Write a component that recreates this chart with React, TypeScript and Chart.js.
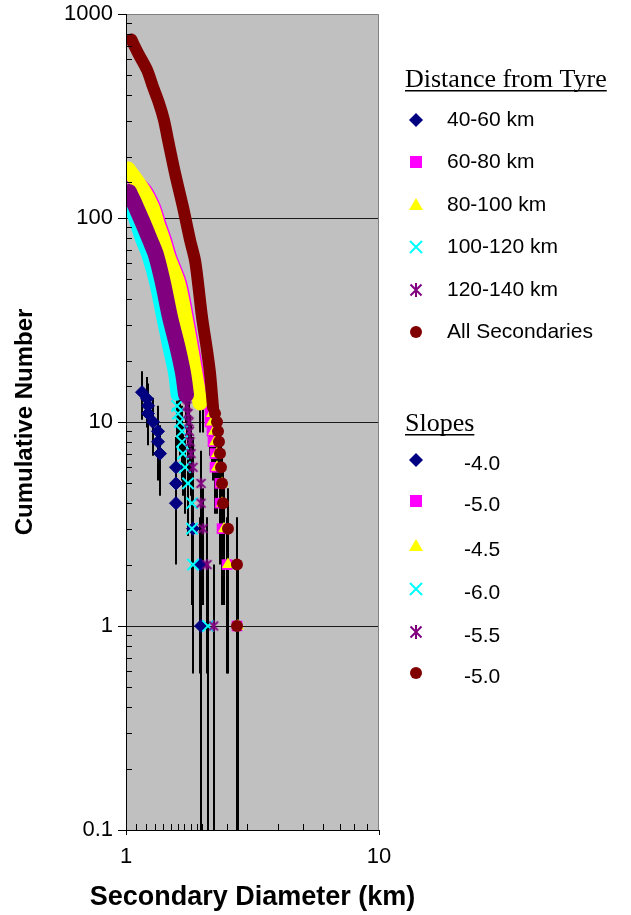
import React, { useEffect, useRef } from 'react';
import { Chart, registerables } from 'chart.js';

Chart.register(...registerables);

const FONT = "'Liberation Sans', Arial, sans-serif";
const SERIF = "'Liberation Serif', 'Times New Roman', serif";

// ---------- text ----------
const xTitle = 'Secondary Diameter (km)';
const yTitle = 'Cumulative Number';
const xTickLabels = ['1', '10'];
const yTickLabels = ['0.1', '1', '10', '100', '1000'];
const legendHeading1 = 'Distance from Tyre';
const legendHeading2 = 'Slopes';
const distanceLabels = ['40-60 km', '60-80 km', '80-100 km', '100-120 km', '120-140 km', 'All Secondaries'];
const slopeLabels = ['-4.0', '-5.0', '-4.5', '-6.0', '-5.5', '-5.0'];

// ---------- data (diameter km, cumulative number) ----------
// 40-60 km
const navyD = [1.157, 1.211, 1.222, 1.222, 1.279, 1.338, 1.338, 1.363, 1.576, 1.576, 1.576, 1.84, 1.96, 1.98];
const navyN = [14, 13, 12, 11, 10, 9, 8, 7, 6, 5, 4, 3, 2, 1];

// 60-80 km
const magentaBandD = [1.04, 1.19, 1.29, 1.351, 1.426, 1.493, 1.635, 1.742, 1.84, 1.908, 2.016];
const magentaBandN = [161, 137, 113, 94.5, 78, 64.4, 48, 32.7, 22.5, 17.4, 12.4];
const magentaPtsD = [2.148, 2.148, 2.187, 2.207, 2.248, 2.248, 2.352, 2.352, 2.396, 2.507, 2.746];
const magentaPtsN = [11, 10, 9, 8, 7, 6, 5, 4, 3, 2, 1];

// 80-100 km
const yellowBandD = [1.018, 1.167, 1.267, 1.326, 1.4, 1.466, 1.605, 1.711, 1.807, 1.874, 1.961];
const yellowBandN = [174, 137, 113, 94.5, 78, 64.4, 48, 32.7, 22.5, 17.4, 12.4];
const yellowPtsD = [2.187, 2.187, 2.227, 2.248, 2.289, 2.289, 2.396, 2.396, 2.44, 2.53, 2.771];
const yellowPtsN = [11, 10, 9, 8, 7, 6, 5, 4, 3, 2, 1];

// 100-120 km
const cyanBandD = [1.0, 1.066, 1.15, 1.215, 1.305, 1.39, 1.466, 1.548, 1.585];
const cyanBandN = [128, 103, 78, 65.8, 48, 32.7, 23.8, 17.4, 13.6];
const cyanPtsD = [1.591, 1.605, 1.635, 1.665, 1.665, 1.68, 1.711, 1.758, 1.823, 1.823, 1.84, 2.109];
const cyanPtsN = [12, 11, 10, 9, 8, 7, 6, 5, 4, 3, 2, 1];

// 120-140 km
const purpleBandD = [1.028, 1.066, 1.167, 1.244, 1.314, 1.4, 1.492, 1.591, 1.68, 1.727];
const purpleBandN = [134, 122, 94.5, 78, 65.8, 48, 32.7, 23.8, 17.4, 13.6];
const purplePtsD = [1.742, 1.758, 1.774, 1.78, 1.791, 1.807, 1.84, 1.979, 1.979, 2.016, 2.09, 2.22];
const purplePtsN = [12, 11, 10, 9, 8, 7, 6, 5, 4, 3, 2, 1];

// All Secondaries
const allBandD = [1.05, 1.115, 1.211, 1.279, 1.35, 1.413, 1.466, 1.562, 1.68, 1.791, 1.874, 1.926, 1.997, 2.09, 2.148, 2.207];
const allBandN = [750, 644, 532, 439, 366, 302, 241, 166, 113, 78, 62, 48, 32.7, 22.5, 17.4, 11.8];
const allPtsD = [2.248, 2.289, 2.31, 2.331, 2.352, 2.374, 2.396, 2.418, 2.53, 2.746, 2.746];
const allPtsN = [11, 10, 9, 8, 7, 6, 5, 4, 3, 2, 1];

const zip = (d: number[], n: number[]) => d.map((x, i) => ({ x, y: n[i] }));

const isPow10 = (v: number) => {
  const l = Math.log10(v);
  return Math.abs(l - Math.round(l)) < 1e-6;
};

function makeAsterisk(color: string, size: number) {
  const c = document.createElement('canvas');
  c.width = size;
  c.height = size;
  const g = c.getContext('2d')!;
  g.strokeStyle = color;
  g.lineWidth = 2;
  const m = size / 2;
  const a = size / 2 - 1;
  const d = a * 0.8;
  g.beginPath();
  g.moveTo(m - d, m - d); g.lineTo(m + d, m + d);
  g.moveTo(m + d, m - d); g.lineTo(m - d, m + d);
  g.moveTo(m, m - a); g.lineTo(m, m + a);
  g.stroke();
  return c;
}

function drawMarker(ctx: CanvasRenderingContext2D, kind: string, x: number, y: number, color: string) {
  ctx.save();
  ctx.fillStyle = color;
  ctx.strokeStyle = color;
  ctx.lineWidth = 2;
  ctx.beginPath();
  if (kind === 'diamond') {
    ctx.moveTo(x, y - 7); ctx.lineTo(x + 7, y); ctx.lineTo(x, y + 7); ctx.lineTo(x - 7, y); ctx.closePath(); ctx.fill();
  } else if (kind === 'square') {
    ctx.fillRect(x - 6, y - 6, 12, 12);
  } else if (kind === 'triangle') {
    ctx.moveTo(x, y - 7); ctx.lineTo(x + 7, y + 5); ctx.lineTo(x - 7, y + 5); ctx.closePath(); ctx.fill();
  } else if (kind === 'x') {
    ctx.moveTo(x - 6, y - 6); ctx.lineTo(x + 6, y + 6); ctx.moveTo(x + 6, y - 6); ctx.lineTo(x - 6, y + 6); ctx.stroke();
  } else if (kind === 'asterisk') {
    ctx.moveTo(x - 5.5, y - 5.5); ctx.lineTo(x + 5.5, y + 5.5); ctx.moveTo(x + 5.5, y - 5.5); ctx.lineTo(x - 5.5, y + 5.5);
    ctx.moveTo(x, y - 7); ctx.lineTo(x, y + 7); ctx.stroke();
  } else {
    ctx.arc(x, y, 6, 0, Math.PI * 2); ctx.fill();
  }
  ctx.restore();
}

const seriesColors = ['#000080', '#FF00FF', '#FFFF00', '#00FFFF', '#800080', '#800000'];
const legendKinds = ['diamond', 'square', 'triangle', 'x', 'asterisk', 'circle'];

const bgPlugin = {
  id: 'plotBg',
  beforeDraw(chart: any) {
    const { ctx, chartArea: a } = chart;
    ctx.save();
    ctx.fillStyle = '#C0C0C0';
    ctx.fillRect(a.left, a.top, a.right - a.left, a.bottom - a.top);
    ctx.restore();
  },
};

const errorBarPlugin = {
  id: 'errBars',
  beforeDatasetsDraw(chart: any) {
    const { ctx, chartArea: a } = chart;
    const xs = chart.scales.x;
    const ys = chart.scales.y;
    ctx.save();
    ctx.beginPath();
    ctx.rect(a.left, a.top, a.right - a.left, a.bottom - a.top);
    ctx.clip();
    ctx.strokeStyle = '#000';
    ctx.lineWidth = 2;
    chart.data.datasets.forEach((ds: any) => {
      if (!ds.errorBars) return;
      ds.data.forEach((p: any) => {
        const e = Math.sqrt(p.y);
        const px = Math.round(xs.getPixelForValue(p.x));
        const top = ys.getPixelForValue(p.y + e);
        const lo = p.y - e;
        const bot = lo > 0 ? Math.min(ys.getPixelForValue(lo), a.bottom) : a.bottom;
        ctx.beginPath();
        ctx.moveTo(px, top);
        ctx.lineTo(px, bot);
        ctx.stroke();
      });
    });
    ctx.restore();
  },
};

const framePlugin = {
  id: 'frameTicks',
  afterDraw(chart: any) {
    const { ctx, chartArea: a } = chart;
    const xs = chart.scales.x;
    const ys = chart.scales.y;
    ctx.save();
    // gray top/right border
    ctx.strokeStyle = '#808080';
    ctx.lineWidth = 1;
    ctx.beginPath();
    ctx.moveTo(a.left, a.top + 0.5);
    ctx.lineTo(a.right - 0.5, a.top + 0.5);
    ctx.lineTo(a.right - 0.5, a.bottom);
    ctx.stroke();
    // axis lines
    ctx.strokeStyle = '#000';
    ctx.beginPath();
    ctx.moveTo(a.left + 0.5, a.top);
    ctx.lineTo(a.left + 0.5, a.bottom + 5);
    ctx.moveTo(a.left - 8, a.bottom + 0.5);
    ctx.lineTo(a.right, a.bottom + 0.5);
    ctx.stroke();
    // y ticks
    ctx.beginPath();
    ys.ticks.forEach((t: any) => {
      const py = Math.round(ys.getPixelForValue(t.value)) + 0.5;
      if (isPow10(t.value)) {
        ctx.moveTo(a.left - 8, py); ctx.lineTo(a.left, py);
      } else {
        ctx.moveTo(a.left, py); ctx.lineTo(a.left + 6, py);
      }
    });
    // x ticks
    xs.ticks.forEach((t: any) => {
      const px = Math.round(xs.getPixelForValue(t.value)) + 0.5;
      if (isPow10(t.value)) {
        ctx.moveTo(px, a.bottom); ctx.lineTo(px, a.bottom + 5);
      } else {
        ctx.moveTo(px, a.bottom - 6); ctx.lineTo(px, a.bottom);
      }
    });
    ctx.stroke();

    // x axis title (wider than the plot area, so drawn here)
    ctx.fillStyle = '#000';
    ctx.textAlign = 'center';
    ctx.textBaseline = 'alphabetic';
    ctx.font = `bold 27px ${FONT}`;
    ctx.fillText(xTitle, (a.left + a.right) / 2, 905);

    // legend
    ctx.textAlign = 'left';
    ctx.font = `26px ${SERIF}`;
    ctx.fillText(legendHeading1, 405, 87);
    let w = ctx.measureText(legendHeading1).width;
    ctx.fillRect(405, 90, w, 1.5);
    ctx.fillText(legendHeading2, 405, 431);
    w = ctx.measureText(legendHeading2).width;
    ctx.fillRect(405, 434, w, 1.5);

    ctx.font = `21px ${FONT}`;
    ctx.textBaseline = 'middle';
    const g1 = [120, 162, 205, 247, 290, 332];
    const g2 = [460, 501, 546, 589, 632, 673];
    distanceLabels.forEach((lab, i) => {
      drawMarker(ctx, legendKinds[i], 416, g1[i], seriesColors[i]);
      ctx.fillStyle = '#000';
      ctx.fillText(lab, 447, g1[i]);
    });
    slopeLabels.forEach((lab, i) => {
      drawMarker(ctx, legendKinds[i], 416, g2[i], seriesColors[i]);
      ctx.fillStyle = '#000';
      ctx.fillText(lab, 464, g2[i] + 4);
    });
    ctx.restore();
  },
};

export default function App() {
  const ref = useRef<HTMLCanvasElement>(null);

  useEffect(() => {
    const canvas = ref.current!;
    const asterisk = makeAsterisk('#800080', 13);

    const series = [
      { color: seriesColors[0], style: 'rectRot', radius: 6.5, bw: 1, band: null, bandW: 0, pts: zip(navyD, navyN), order: 6 },
      { color: seriesColors[1], style: 'rect', radius: 7.5, bw: 0, band: zip(magentaBandD, magentaBandN), bandW: 14, pts: zip(magentaPtsD, magentaPtsN), order: 5 },
      { color: seriesColors[2], style: 'triangle', radius: 7, bw: 0, band: zip(yellowBandD, yellowBandN), bandW: 15, pts: zip(yellowPtsD, yellowPtsN), order: 4 },
      { color: seriesColors[3], style: 'crossRot', radius: 8, bw: 2, band: zip(cyanBandD, cyanBandN), bandW: 12, pts: zip(cyanPtsD, cyanPtsN), order: 3 },
      { color: seriesColors[4], style: asterisk, radius: 7, bw: 0, band: zip(purpleBandD, purpleBandN), bandW: 16, pts: zip(purplePtsD, purplePtsN), order: 2 },
      { color: seriesColors[5], style: 'circle', radius: 6, bw: 0, band: zip(allBandD, allBandN), bandW: 12, pts: zip(allPtsD, allPtsN), order: 1 },
    ];

    const datasets: any[] = [];
    series.forEach((s, i) => {
      if (s.band) {
        datasets.push({
          label: distanceLabels[i] + ' band',
          data: s.band,
          showLine: true,
          borderColor: s.color,
          backgroundColor: s.color,
          borderWidth: s.bandW,
          borderCapStyle: 'round',
          borderJoinStyle: 'round',
          pointRadius: 0,
          tension: 0.3,
          clip: 0,
          order: s.order,
          errorBars: true,
        });
      }
      datasets.push({
        label: distanceLabels[i],
        data: s.pts,
        showLine: false,
        pointStyle: s.style,
        pointRadius: s.radius,
        pointBackgroundColor: s.color,
        pointBorderColor: s.color,
        pointBorderWidth: s.bw,
        backgroundColor: s.color,
        borderColor: s.color,
        clip: 0,
        order: s.order,
        errorBars: true,
      });
    });

    const chart = new Chart(canvas, {
      type: 'scatter',
      data: { datasets },
      options: {
        animation: false,
        responsive: false,
        devicePixelRatio: 1,
        events: [],
        layout: { padding: { left: 0, right: 252, top: 14, bottom: 0 } },
        plugins: { legend: { display: false }, tooltip: { enabled: false } },
        scales: {
          x: {
            type: 'logarithmic',
            position: 'bottom',
            min: 1,
            max: 10,
            afterFit: (s: any) => { s.height = 85; s.paddingLeft = 0; s.paddingRight = 0; },
            grid: { display: false, drawTicks: false },
            border: { display: false },
            ticks: {
              autoSkip: false,
              maxRotation: 0,
              padding: 14,
              color: '#000',
              font: { family: FONT, size: 22 },
              callback: (v: any) => {
                const lab = String(Number(v));
                return isPow10(Number(v)) && xTickLabels.includes(lab) ? lab : '';
              },
            },
            title: { display: false },
          },
          y: {
            type: 'logarithmic',
            position: 'left',
            min: 0.1,
            max: 1000,
            afterFit: (s: any) => { s.width = 126; s.paddingTop = 0; s.paddingBottom = 0; },
            grid: {
              drawTicks: false,
              color: (c: any) => {
                const v = c.tick ? c.tick.value : 0;
                return isPow10(v) && v > 0.1 && v < 1000 ? '#1a1a1a' : 'rgba(0,0,0,0)';
              },
              lineWidth: 1,
            },
            border: { display: false },
            ticks: {
              autoSkip: false,
              padding: 13,
              color: '#000',
              font: { family: FONT, size: 22 },
              callback: (v: any) => {
                const lab = String(Number(v));
                return isPow10(Number(v)) && yTickLabels.includes(lab) ? lab : '';
              },
            },
            title: {
              display: true,
              text: yTitle,
              color: '#000',
              font: { family: FONT, size: 24, weight: 'bold' },
              padding: { top: 11, bottom: 0 },
            },
          },
        },
      } as any,
      plugins: [bgPlugin, errorBarPlugin, framePlugin],
    });

    return () => chart.destroy();
  }, []);

  return (
    <div style={{ position: 'fixed', left: 0, top: 0, width: 631, height: 915, background: '#fff' }}>
      <canvas ref={ref} width={631} height={915} style={{ display: 'block', width: 631, height: 915 }} />
    </div>
  );
}
